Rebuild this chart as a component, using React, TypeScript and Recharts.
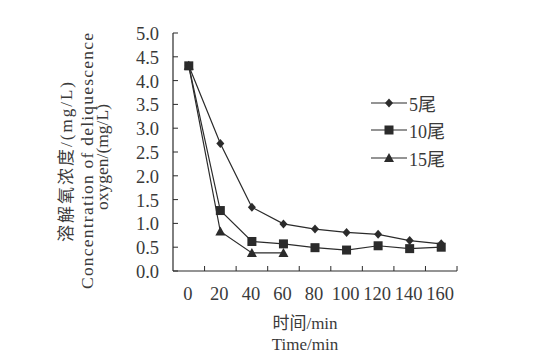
import { LineChart, Line, XAxis, YAxis } from 'recharts';

const times = [0, 20, 40, 60, 80, 100, 120, 140, 160];
const fish5 = [4.31, 2.68, 1.34, 0.99, 0.88, 0.81, 0.77, 0.64, 0.57];
const fish10 = [4.31, 1.27, 0.62, 0.57, 0.49, 0.44, 0.53, 0.47, 0.5];
const fish15 = [4.31, 0.83, 0.38, 0.38];
const yTicks = [0, 0.5, 1, 1.5, 2, 2.5, 3, 3.5, 4, 4.5, 5];

const INK = '#2b2b2b';
const TEXT = '#3a3a3a';
const FONT = '"Liberation Serif", "Times New Roman", "Noto Sans CJK SC", serif';

const data = times.map((t, i) => ({
  t,
  s5: fish5[i],
  s10: fish10[i],
  s15: i < fish15.length ? fish15[i] : null,
}));

type Marker = 'diamond' | 'square' | 'triangle';

function MarkerShape({ cx, cy, kind }: { cx: number; cy: number; kind: Marker }) {
  if (kind === 'diamond') {
    return <polygon points={`${cx},${cy - 4.5} ${cx + 4},${cy} ${cx},${cy + 4.5} ${cx - 4},${cy}`} fill={INK} />;
  }
  if (kind === 'square') {
    return <rect x={cx - 4.5} y={cy - 4.5} width={9} height={9} fill={INK} />;
  }
  return <polygon points={`${cx},${cy - 5} ${cx + 5},${cy + 4} ${cx - 5},${cy + 4}`} fill={INK} />;
}

const makeDot = (kind: Marker) => (props: any) => {
  const { cx, cy, index, value } = props;
  if (value == null || cx == null || cy == null) return <g key={`${kind}-${index}`} />;
  return (
    <g key={`${kind}-${index}`}>
      <MarkerShape cx={cx} cy={cy} kind={kind} />
    </g>
  );
};

const legendItems: { label: string; kind: Marker }[] = [
  { label: '5尾', kind: 'diamond' },
  { label: '10尾', kind: 'square' },
  { label: '15尾', kind: 'triangle' },
];

function LegendBox() {
  return (
    <div style={{ position: 'absolute', left: 371, top: 89, fontFamily: FONT, color: TEXT, fontSize: 18 }}>
      {legendItems.map((it) => (
        <div key={it.label} style={{ display: 'flex', alignItems: 'center', height: 27.5 }}>
          <svg width={36} height={14}>
            <line x1={0} y1={7} x2={36} y2={7} stroke={INK} strokeWidth={1.2} />
            <MarkerShape cx={18} cy={7} kind={it.kind} />
          </svg>
          <span style={{ marginLeft: 2 }}>{it.label}</span>
        </div>
      ))}
    </div>
  );
}

function XTick(props: any) {
  const { x, y, payload } = props;
  const half = 15.8;
  return (
    <g>
      <line x1={x + half} y1={y} x2={x + half} y2={y - 5} stroke={INK} strokeWidth={1} />
      <text x={x - 1} y={y + 29} textAnchor="middle" fill={TEXT} style={{ fontFamily: FONT, fontSize: 18.5 }}>
        {payload.value}
      </text>
    </g>
  );
}

function YTick(props: any) {
  const { x, y, payload } = props;
  return (
    <g>
      <line x1={x} y1={y} x2={x + 5} y2={y} stroke={INK} strokeWidth={1} />
      <text x={x - 14} y={y + 7} textAnchor="end" fill={TEXT} style={{ fontFamily: FONT, fontSize: 18.5 }}>
        {Number(payload.value).toFixed(1)}
      </text>
    </g>
  );
}

function YTitle() {
  return (
    <g fill={TEXT} style={{ fontFamily: FONT }}>
      <text x={0} y={0} transform="translate(72,162) rotate(-90)" textAnchor="middle" fontSize={17} textLength={160} lengthAdjust="spacing">
        溶解氧浓度/(mg/L)
      </text>
      <text x={0} y={0} transform="translate(93,161) rotate(-90)" textAnchor="middle" fontSize={17.5} textLength={256} lengthAdjust="spacing">
        Concentration of deliquescence
      </text>
      <text x={0} y={0} transform="translate(108,157) rotate(-90)" textAnchor="middle" fontSize={17.5}>
        oxygen/(mg/L)
      </text>
    </g>
  );
}

function XTitle() {
  return (
    <g fill={TEXT} textAnchor="middle" style={{ fontFamily: FONT }}>
      <text x={305} y={329} fontSize={17}>时间/min</text>
      <text x={305} y={350} fontSize={17}>Time/min</text>
    </g>
  );
}

export default function App() {
  return (
    <div style={{ position: 'absolute', left: 0, top: 0, width: 554, height: 360, background: '#fff' }}>
      <LineChart width={554} height={360} data={data} margin={{ top: 33, right: 97, bottom: 0, left: 0 }}>
        <XAxis
          dataKey="t"
          type="number"
          domain={[-10, 170]}
          ticks={times}
          interval={0}
          tickSize={0}
          tickMargin={0}
          tickLine={false}
          tick={<XTick />}
          axisLine={{ stroke: INK, strokeWidth: 1.2 }}
          height={89}
          label={{ content: () => <XTitle /> }}
        />
        <YAxis
          type="number"
          domain={[0, 5]}
          ticks={yTicks}
          interval={0}
          width={173}
          tickSize={0}
          tickMargin={0}
          tickLine={false}
          tick={<YTick />}
          axisLine={{ stroke: INK, strokeWidth: 1.2 }}
          label={{ content: () => <YTitle /> }}
        />
        <Line dataKey="s5" stroke={INK} strokeWidth={1.2} dot={makeDot('diamond')} isAnimationActive={false} />
        <Line dataKey="s10" stroke={INK} strokeWidth={1.2} dot={makeDot('square')} isAnimationActive={false} />
        <Line dataKey="s15" stroke={INK} strokeWidth={1.2} dot={makeDot('triangle')} isAnimationActive={false} connectNulls={false} />
      </LineChart>
      <LegendBox />
    </div>
  );
}
